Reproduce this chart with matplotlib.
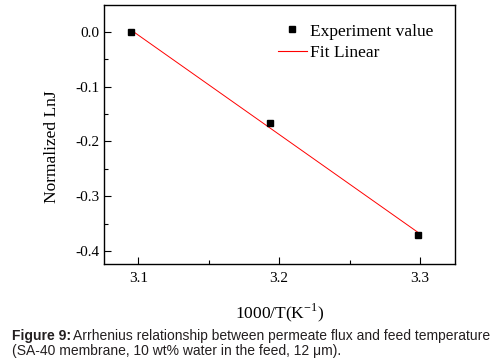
import numpy as np
import matplotlib
matplotlib.use("Agg")
import matplotlib.pyplot as plt
from matplotlib.lines import Line2D

# dados: 1000/T e ln J normalizado
inv_T = [3.0945, 3.1934, 3.2987]
ln_j = [0.0, -0.1664, -0.3706]

x_ticks = [3.1, 3.2, 3.3]
y_ticks = [0.0, -0.1, -0.2, -0.3, -0.4]

plt.rcParams["font.family"] = "Liberation Serif"
plt.rcParams["mathtext.fontset"] = "custom"
plt.rcParams["mathtext.rm"] = "Liberation Serif"

fig = plt.figure(figsize=(5.01, 3.64), dpi=100)
ax = fig.add_axes([0.2066, 0.2747, 0.7014, 0.7107])

# ajuste linear
coef = np.polyfit(inv_T, ln_j, 1)
xf = np.array([inv_T[0], inv_T[-1]])
ax.plot(xf, np.polyval(coef, xf), color="red", lw=0.7)
ax.plot(inv_T, ln_j, "s", color="black", ms=4.5, zorder=3)

ax.set_xlim(3.0753, 3.3248)
ax.set_ylim(-0.424, 0.049)
ax.set_xticks(x_ticks)
ax.set_xticks([3.15, 3.25], minor=True)
ax.set_yticks(y_ticks)
ax.set_yticks([-0.05, -0.15, -0.25, -0.35], minor=True)
ax.set_xticklabels([f"{v:.1f}" for v in x_ticks])
# hifen simples no lugar do sinal de menos
ax.set_yticklabels([f"{v:.1f}".replace("-0.0", "0.0") for v in y_ticks])

ax.tick_params(which="both", direction="in", top=False, right=False, width=0.8, labelsize=11)
ax.tick_params(which="major", length=5)
ax.tick_params(which="minor", length=3)
ax.tick_params(axis="x", pad=6)
ax.tick_params(axis="y", pad=3)
for s in ax.spines.values():
    s.set_linewidth(1.0)

ax.set_xlabel("1000/T(K$^{\\rm{-1}}$)", fontsize=12.5)
ax.set_ylabel("Normalized LnJ", fontsize=12.5)
ax.xaxis.set_label_coords(0.5, -0.143)
ax.yaxis.set_label_coords(-0.124, 0.454)

handles = [
    Line2D([], [], marker="s", ls="none", color="black", ms=4),
    Line2D([], [], color="red", lw=0.8),
]
ax.legend(handles, ["Experiment value", "Fit Linear"], loc="upper left",
          bbox_to_anchor=(0.4956, 0.93), frameon=False, fontsize=12.5,
          borderpad=0, borderaxespad=0, handlelength=1.67, handletextpad=0.2,
          labelspacing=0.3)

# legenda da figura
cor_txt = "#231f20"
t1 = fig.text(12 / 501, 1 - 340 / 364, "Figure 9:", fontsize=10, fontweight="bold",
              family="Liberation Sans", color=cor_txt, va="baseline")
fig.canvas.draw()
bb = t1.get_window_extent()
fig.text(bb.x1 / 501 + 2 / 501, 1 - 340 / 364,
         "Arrhenius relationship between permeate flux and feed temperature",
         fontsize=10, family="Liberation Sans", color=cor_txt, va="baseline")
fig.text(12 / 501, 1 - 355.5 / 364,
         "(SA-40 membrane, 10 wt% water in the feed, 12 \u03bcm).",
         fontsize=10, family="Liberation Sans", color=cor_txt, va="baseline")

fig.savefig("out.png", dpi=100)
